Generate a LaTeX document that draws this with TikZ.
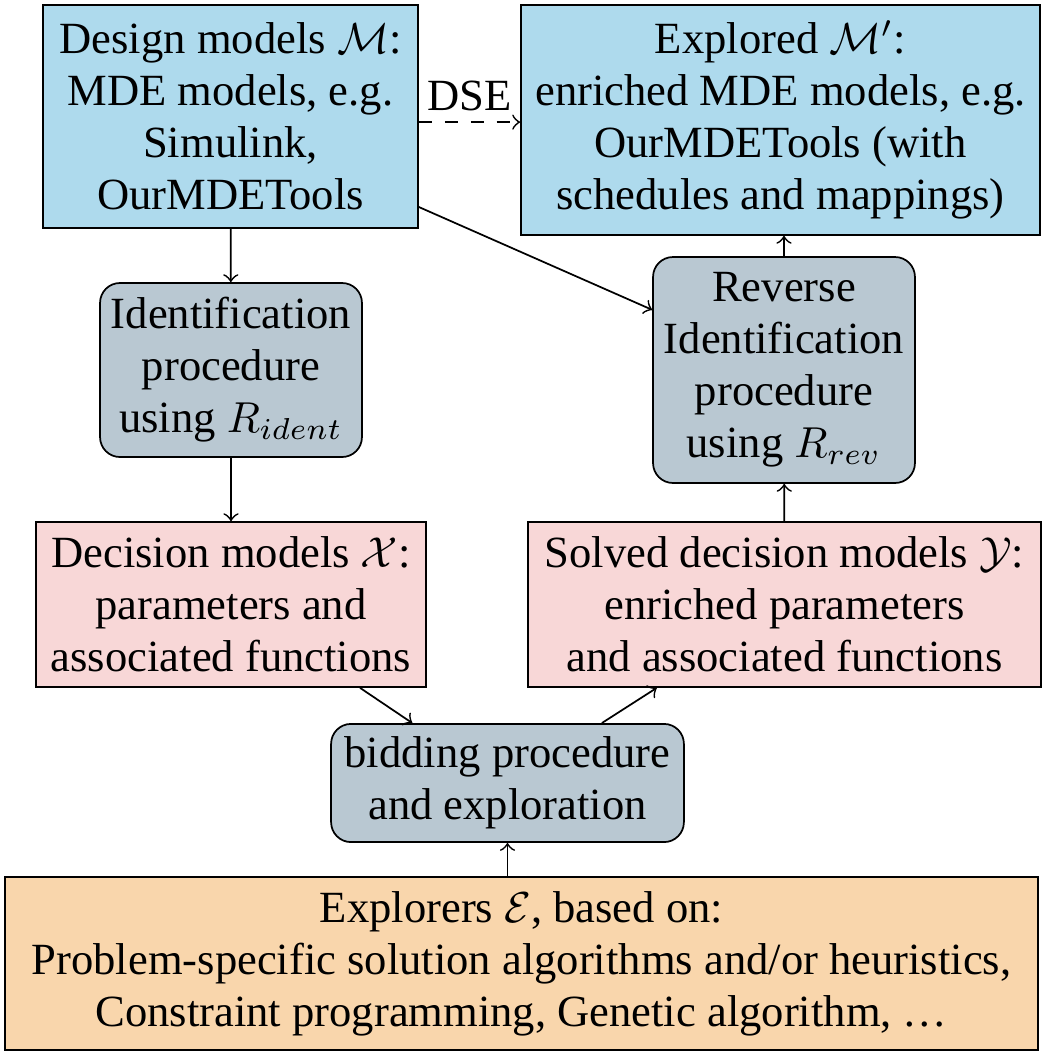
\documentclass[tikz,border=0pt]{standalone}
\usepackage{fontspec}
\setmainfont{Liberation Serif}
\usetikzlibrary{calc}

\definecolor{dsmblue}{RGB}{174,218,237}
\definecolor{dsmgray}{RGB}{185,200,210}
\definecolor{dsmpink}{RGB}{248,215,215}
\definecolor{dsmpeach}{RGB}{249,214,172}

\tikzset{every picture/.style={line width=0.4pt}}
\tikzset{
  modelbox/.style={draw, fill=dsmblue, align=center, inner sep=2pt},
  procbox/.style={draw, fill=dsmgray, rounded corners=4.6pt, align=center, inner sep=2pt},
  decbox/.style={draw, fill=dsmpink, align=center, inner sep=2pt},
  explbox/.style={draw, fill=dsmpeach, align=center, inner sep=2pt},
  flow/.style={->}
}

\begin{document}
\begin{tikzpicture}[x=0.231pt,y=0.231pt,yscale=-1,xscale=1, font=\fontsize{10.3}{12}\selectfont]
\useasboundingbox (0,0) rectangle (1060,1057);

% design models
\node [modelbox, minimum width=86.6pt, minimum height=51.5pt] (des) at (230.5,116.5)
  {Design models $\mathcal{M}$:\\MDE models, e.g.\\Simulink,\\OurMDETools};
% explored models
\node [modelbox, minimum width=119.9pt, minimum height=53.1pt] (exp) at (780.5,120)
  {Explored $\mathcal{M}'$:\\enriched MDE models, e.g.\\OurMDETools (with\\schedules and mappings)};
% identification
\node [procbox, minimum width=60.5pt, minimum height=40.2pt] (ident) at (231,370)
  {Identification\\procedure\\using $R_{ident}$};
% reverse identification
\node [procbox, minimum width=60.5pt, minimum height=52.2pt] (rev) at (784,370)
  {Reverse\\Identification\\procedure\\using $R_{rev}$};
% decision models
\node [decbox, minimum width=90.1pt, minimum height=38.1pt] (dec) at (231,604.5)
  {Decision models $\mathcal{X}$:\\parameters and\\associated functions};
% solved decision models
\node [decbox, minimum width=118.5pt, minimum height=38.1pt] (sol) at (784.5,604.5)
  {Solved decision models $\mathcal{Y}$:\\enriched parameters\\and associated functions};
% bidding
\node [procbox, minimum width=81.5pt, minimum height=27.3pt] (bid) at (507.5,783)
  {bidding procedure\\and exploration};
% explorers
\node [explbox, minimum width=238.6pt, minimum height=40pt] (expl) at (521.5,963.5)
  {Explorers $\mathcal{E}$, based on:\\Problem-specific solution algorithms and/or heuristics,\\Constraint programming, Genetic algorithm, \dots};

% Connectors
\draw [flow] (des) -- (ident);
\draw [flow] (ident) -- (dec);
\draw [flow] ([xshift=29.8pt]dec.south) -- ([xshift=-22pt]bid.north);
\draw [flow] ([xshift=21.8pt]bid.north) -- ([xshift=-29.5pt]sol.south);
\draw [flow] (sol) -- (rev);
\draw [flow] (rev) -- (rev |- exp.south);
\draw [flow] (expl.north -| bid) -- (bid);
\draw [flow] ([yshift=20.9pt]des.east) -- ([yshift=-13.9pt]rev.west);
\draw [flow, dashed] ([yshift=1.3pt]des.east) -- ([yshift=1.3pt]des.east -| exp.west)
  node [midway, above, inner sep=2.5pt] {DSE};

\end{tikzpicture}
\end{document}
